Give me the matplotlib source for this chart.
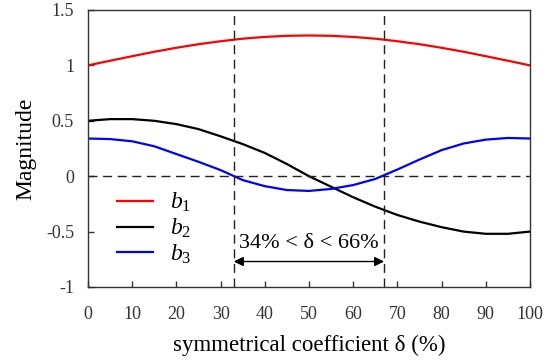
import matplotlib
matplotlib.use('Agg')
import matplotlib.pyplot as plt

plt.rcParams['font.family'] = ['Liberation Serif', 'DejaVu Serif']
plt.rcParams['mathtext.fontset'] = 'custom'
plt.rcParams['mathtext.rm'] = 'Liberation Serif'
plt.rcParams['mathtext.it'] = 'Liberation Serif:italic'

delta = [0, 5, 10, 15, 20, 25, 30, 35, 40, 45, 50, 55, 60, 65, 70, 75, 80, 85, 90, 95, 100]
b1 = [1.00, 1.042, 1.083, 1.123, 1.159, 1.191, 1.218, 1.241, 1.257, 1.267, 1.27,
      1.267, 1.257, 1.241, 1.218, 1.191, 1.159, 1.123, 1.083, 1.042, 1.00]
b2 = [0.50, 0.515, 0.515, 0.50, 0.47, 0.425, 0.36, 0.29, 0.21, 0.11, 0.0,
      -0.095, -0.19, -0.275, -0.35, -0.41, -0.46, -0.50, -0.52, -0.52, -0.50]
b3 = [0.34, 0.335, 0.315, 0.27, 0.20, 0.13, 0.055, -0.035, -0.09, -0.125, -0.133,
      -0.115, -0.08, -0.025, 0.06, 0.15, 0.235, 0.295, 0.33, 0.345, 0.34]
bounds = [33, 67]

fig = plt.figure(figsize=(5.52, 3.62), dpi=100)
ax = fig.add_axes([0.1594, 0.2072, 0.8006, 0.7652])

ax.plot(delta, b1, color='#ff0000', lw=1.6, label='$b_1$')
ax.plot(delta, b2, color='black', lw=1.6, label='$b_2$')
ax.plot(delta, b3, color='#0000ff', lw=1.6, label='$b_3$')

dash = (0, (6.5, 4))
ax.axhline(0, color='#222222', lw=1, linestyle=dash)
for b in bounds:
    ax.axvline(b, color='#222222', lw=1, linestyle=dash)

ax.annotate('', xy=(bounds[0], -0.77), xytext=(bounds[1], -0.77),
            arrowprops=dict(arrowstyle='<|-|>', color='black', lw=1,
                            mutation_scale=14, shrinkA=0, shrinkB=0))
ax.text(50, -0.61, '34% < δ < 66%', ha='center', va='center', fontsize=16)

ax.set_xlim(0, 100)
ax.set_ylim(-1, 1.5)
ax.set_xticks(range(0, 101, 10))
ax.set_yticks([-1, -0.5, 0, 0.5, 1, 1.5])
ax.set_yticklabels(['-1', '-0.5', '0', '0.5', '1', '1.5'])
ax.tick_params(direction='in', length=4, width=1, labelsize=13, colors='#333333',
               labelcolor='#333333')
ax.tick_params(axis='x', pad=14)
ax.tick_params(axis='y', pad=10)
for s in ax.spines.values():
    s.set_color('#333333')
    s.set_linewidth(1)

ax.set_xlabel('symmetrical coefficient δ (%)', fontsize=16.5, labelpad=8)
ax.set_ylabel('Magnitude', fontsize=17, labelpad=7)

ax.legend(loc='upper left', bbox_to_anchor=(0.045, 0.38), frameon=False,
          fontsize=17, handlelength=1.5, handletextpad=0.75, labelspacing=0.1,
          borderaxespad=0)

fig.savefig('out.png', dpi=100)
